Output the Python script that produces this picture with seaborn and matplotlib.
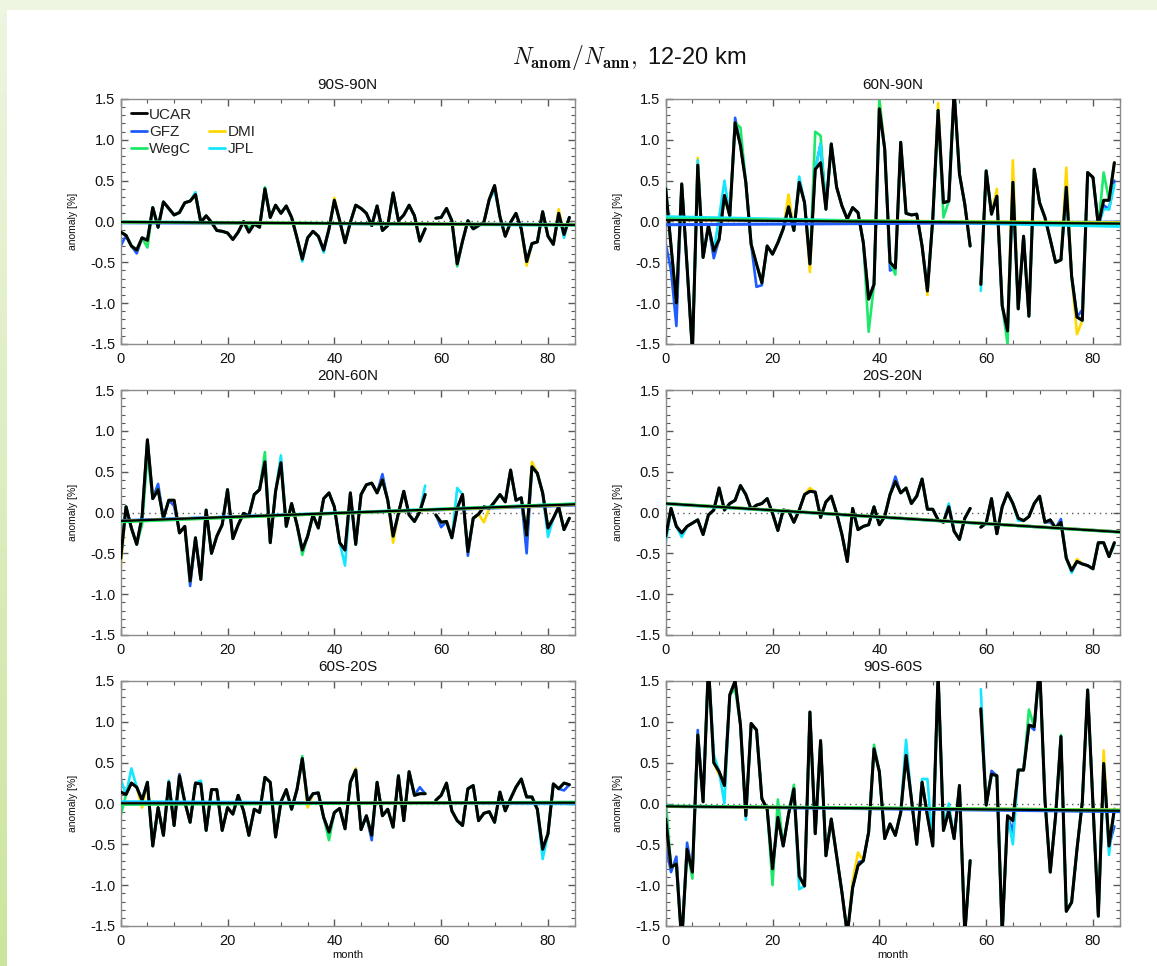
import numpy as np
import pandas as pd
import matplotlib
matplotlib.use("Agg")
import matplotlib.pyplot as plt
from matplotlib.lines import Line2D
from matplotlib.patches import Rectangle
from matplotlib.ticker import MultipleLocator, FormatStrFormatter
import seaborn as sns

sns.set_theme(style="white")
plt.rcParams["font.family"] = ["Liberation Sans", "DejaVu Sans"]
plt.rcParams["mathtext.fontset"] = "cm"

nan = np.nan
months = np.arange(85)

centres = ["UCAR", "GFZ", "DMI", "WegC", "JPL"]
centre_colors = {"UCAR": "#000000", "GFZ": "#1f5cff", "DMI": "#ffd800",
                 "WegC": "#1ee86a", "JPL": "#14e6ff"}

# Monthly refractivity anomalies [%] from UCAR, per latitude band
ucar_90s_90n = [
    -0.13, -0.17, -0.30, -0.35, -0.20, -0.23, 0.17, -0.07, 0.24, 0.16,
    0.08, 0.11, 0.23, 0.25, 0.33, -0.01, 0.07, -0.01, -0.11, -0.12,
    -0.14, -0.22, -0.13, 0.00, -0.13, -0.03, -0.07, 0.40, 0.05, 0.20,
    0.10, 0.19, 0.05, -0.20, -0.46, -0.20, -0.12, -0.18, -0.35, -0.09,
    0.26, 0.01, -0.26, -0.01, 0.20, 0.16, 0.10, -0.05, 0.19, -0.11,
    -0.05, 0.35, 0.01, 0.08, 0.20, 0.07, -0.24, -0.09, nan, 0.04,
    0.05, 0.16, 0.01, -0.52, -0.24, 0.01, -0.09, -0.05, -0.01, 0.27,
    0.44, 0.06, -0.18, -0.01, 0.10, -0.09, -0.49, -0.27, -0.25, 0.12,
    -0.18, -0.28, 0.10, -0.16, 0.05]
ucar_60n_90n = [
    0.40, -0.30, -1.00, 0.46, -0.55, -1.60, 0.69, -0.44, -0.05, -0.36,
    -0.22, 0.32, 0.07, 1.21, 0.93, 0.48, -0.28, -0.52, -0.75, -0.30,
    -0.40, -0.26, -0.09, 0.18, -0.11, 0.48, 0.23, -0.52, 0.64, 0.72,
    0.15, 0.95, 0.42, 0.19, 0.03, 0.17, 0.11, -0.26, -0.95, -0.77,
    1.38, 0.89, -0.50, -0.57, 0.97, 0.10, 0.08, 0.09, -0.30, -0.85,
    0.03, 1.36, 0.23, 0.25, 1.60, 0.58, 0.21, -0.30, nan, -0.77,
    0.62, 0.09, 0.31, -1.03, -1.34, 0.48, -1.07, -0.18, -1.16, 0.64,
    0.23, 0.05, -0.22, -0.50, -0.47, 0.42, -0.67, -1.17, -1.21, 0.60,
    0.54, -0.05, 0.26, 0.26, 0.72]
ucar_20n_60n = [
    -0.56, 0.07, -0.19, -0.39, -0.05, 0.89, 0.17, 0.28, -0.07, 0.15,
    0.15, -0.25, -0.17, -0.84, -0.31, -0.82, 0.03, -0.50, -0.29, -0.15,
    0.28, -0.32, -0.15, -0.01, -0.04, 0.22, 0.28, 0.62, -0.37, 0.26,
    0.61, -0.17, 0.11, -0.15, -0.46, -0.29, -0.03, -0.19, 0.17, 0.24,
    0.07, -0.37, -0.46, 0.24, -0.39, 0.22, 0.34, 0.36, 0.24, 0.40,
    0.15, -0.29, -0.01, 0.26, -0.03, -0.11, 0.01, 0.22, nan, -0.03,
    -0.12, -0.11, -0.31, 0.05, 0.22, -0.48, -0.07, -0.02, 0.07, 0.05,
    0.13, 0.22, 0.13, 0.52, 0.15, 0.18, -0.28, 0.56, 0.48, 0.24,
    -0.19, -0.07, 0.07, -0.21, -0.07]
ucar_20s_20n = [
    -0.29, 0.05, -0.17, -0.25, -0.17, -0.13, -0.09, -0.27, -0.03, 0.03,
    0.30, 0.03, 0.11, 0.15, 0.33, 0.22, 0.04, 0.09, 0.11, 0.17,
    -0.01, -0.22, 0.03, 0.02, -0.12, 0.03, 0.22, 0.26, 0.25, -0.06,
    0.13, 0.20, -0.01, -0.27, -0.60, 0.05, -0.21, -0.17, -0.15, 0.07,
    -0.15, -0.05, 0.22, 0.38, 0.24, 0.30, 0.11, 0.20, 0.41, 0.04,
    0.04, -0.09, -0.12, 0.07, -0.23, -0.33, -0.07, 0.05, nan, -0.18,
    -0.13, 0.17, -0.26, 0.07, 0.24, 0.11, -0.07, -0.10, -0.05, 0.11,
    0.20, -0.12, -0.09, -0.19, -0.12, -0.56, -0.71, -0.60, -0.63, -0.65,
    -0.69, -0.37, -0.37, -0.54, -0.37]
ucar_60s_20s = [
    0.14, 0.11, 0.25, 0.20, 0.04, 0.26, -0.52, -0.05, -0.39, 0.26,
    -0.27, 0.34, 0.02, -0.23, 0.25, 0.24, -0.33, 0.17, 0.17, -0.33,
    -0.05, -0.13, 0.10, -0.09, -0.39, -0.07, -0.11, 0.32, 0.26, -0.41,
    0.02, 0.17, -0.07, 0.17, 0.55, 0.02, 0.12, 0.13, -0.17, -0.35,
    -0.11, -0.06, -0.31, 0.26, 0.41, -0.32, -0.15, -0.39, 0.26, -0.15,
    -0.07, -0.29, 0.34, -0.21, 0.39, 0.10, 0.12, 0.12, nan, 0.04,
    0.10, 0.25, -0.09, -0.21, -0.27, 0.18, 0.22, -0.21, -0.12, -0.10,
    -0.23, 0.14, -0.09, 0.06, 0.20, 0.30, 0.08, 0.08, -0.07, -0.56,
    -0.37, 0.24, 0.18, 0.25, 0.23]
ucar_90s_60s = [
    -0.19, -0.78, -0.74, -1.70, -0.56, -0.84, 0.84, 0.02, 1.70, 0.50,
    0.39, 0.22, 1.33, 1.50, 0.96, -0.15, 0.98, 0.90, 0.06, -0.07,
    -0.80, -0.17, -0.52, -0.13, 0.18, -0.89, -1.01, 1.12, -0.37, 0.77,
    -0.64, -0.19, -0.64, -1.09, -1.60, -1.03, -0.76, -0.70, -0.35, 0.67,
    0.39, -0.43, -0.25, -0.39, -0.11, 0.59, 0.06, -0.50, 0.26, -0.15,
    -0.52, 1.60, -0.33, -0.09, -0.43, 0.22, -1.60, -0.70, nan, 1.16,
    -0.02, 0.36, 0.34, -1.60, -0.15, -0.21, 0.41, 0.41, 0.96, 0.94,
    1.70, 0.05, -0.84, -0.15, 0.82, -1.32, -1.21, -0.56, 0.02, 1.39,
    -0.02, -1.38, 0.49, -0.52, -0.07]

# Months in which the other processing centres depart from UCAR
dev_90s_90n = {
    "GFZ": {0: -0.30, 3: -0.39},
    "DMI": {5: -0.30, 40: 0.29, 76: -0.54, 82: 0.15},
    "WegC": {5: -0.32, 24: -0.08, 27: 0.42, 63: -0.55},
    "JPL": {14: 0.36, 34: -0.49, 38: -0.38, 70: 0.38, 83: -0.20},
}
dev_60n_90n = {
    "GFZ": {0: -0.27, 1: -0.60, 2: -1.28, 9: -0.45, 13: 1.27, 17: -0.80,
            18: -0.78, 29: 0.95, 42: -0.60, 78: -1.08, 82: 0.20, 83: 0.15,
            84: 0.50},
    "DMI": {6: 0.78, 23: 0.33, 27: -0.62, 40: 1.50, 49: -0.90, 51: 1.45,
            62: 0.40, 65: 0.75, 75: 0.66, 77: -1.38},
    "WegC": {14: 1.15, 28: 1.10, 29: 1.05, 38: -1.35, 40: 1.50, 43: -0.65,
             52: 0.05, 64: -1.50, 82: 0.60},
    "JPL": {0: 0.45, 6: 0.75, 10: 0.05, 11: 0.50, 25: 0.55, 29: 0.95,
            59: -0.85, 82: 0.15, 83: 0.15, 84: 0.45},
}
dev_20n_60n = {
    "GFZ": {7: 0.35, 10: 0.08, 13: -0.90, 49: 0.47, 60: -0.18, 65: -0.53,
            76: -0.50},
    "DMI": {0: -0.68, 28: -0.35, 51: -0.37, 68: -0.12, 77: 0.62},
    "WegC": {4: -0.15, 5: 0.70, 27: 0.74, 34: -0.52},
    "JPL": {30: 0.70, 42: -0.65, 57: 0.33, 63: 0.30, 80: -0.30},
}
dev_20s_20n = {
    "GFZ": {43: 0.44, 72: -0.12, 74: -0.08},
    "DMI": {27: 0.30, 77: -0.57},
    "WegC": {84: -0.40},
    "JPL": {0: -0.38, 3: -0.30, 53: 0.11, 66: -0.10, 76: -0.74},
}
dev_60s_20s = {
    "GFZ": {11: 0.36, 47: -0.45, 56: 0.20, 83: 0.16},
    "DMI": {4: -0.05, 35: -0.05, 44: 0.43},
    "WegC": {0: -0.15, 34: 0.58, 39: -0.45},
    "JPL": {0: 0.30, 2: 0.43, 9: 0.28, 15: 0.28, 79: -0.68},
}
dev_90s_60s = {
    "GFZ": {0: -0.52, 1: -0.84, 2: -0.65, 4: -0.48, 6: 0.90, 9: 0.55,
            36: -0.72, 61: 0.40, 65: -0.35, 69: 0.90, 84: -0.28},
    "DMI": {10: 0.35, 35: -0.95, 36: -0.60, 82: 0.65},
    "WegC": {0: 0.05, 5: -0.92, 13: 1.40, 20: -1.00, 21: 0.05, 24: 0.23,
             39: 0.72, 68: 1.15, 74: 0.84},
    "JPL": {9: 0.60, 11: 0.00, 15: -0.20, 25: -1.05, 45: 0.78, 48: 0.30,
            49: 0.30, 53: 0.00, 59: 1.40, 65: -0.50, 83: -0.63},
}

regions = ["90S-90N", "60N-90N", "20N-60N", "20S-20N", "60S-20S", "90S-60S"]
ucar_by_region = [ucar_90s_90n, ucar_60n_90n, ucar_20n_60n,
                  ucar_20s_20n, ucar_60s_20s, ucar_90s_60s]
dev_by_region = [dev_90s_90n, dev_60n_90n, dev_20n_60n,
                 dev_20s_20n, dev_60s_20s, dev_90s_60s]


def centre_series(ucar, deviations):
    out = {"UCAR": np.array(ucar, dtype=float)}
    for c in centres[1:]:
        arr = np.array(ucar, dtype=float)
        for m, v in deviations.get(c, {}).items():
            arr[m] = v
        out[c] = arr
    return out


W, H = 1157, 966
fig = plt.figure(figsize=(W / 100, H / 100), dpi=100)
fig.patch.set_facecolor("white")

# page decoration: pale band along the top, green gradient along the left
fig.add_artist(Rectangle((0, 1 - 10 / H), 1, 10 / H, transform=fig.transFigure,
                         facecolor="#eef5e0", edgecolor="none", zorder=0))
strip = fig.add_axes([0, 0, 7 / W, 1 - 10 / H])
grad = np.linspace(0, 1, 256)[:, None]
c_top = np.array([238, 245, 224]) / 255
c_bot = np.array([203, 229, 158]) / 255
strip.imshow((c_top * (1 - grad) + c_bot * grad).reshape(256, 1, 3),
             aspect="auto", extent=[0, 1, 0, 1])
strip.axis("off")

col_left = [120.7, 665.7]
ax_w = 454.0
row_top = [99.0, 390.0, 681.0]
ax_h = 245.0

draw_order = ["GFZ", "DMI", "WegC", "JPL", "UCAR"]
trend_order = ["JPL", "GFZ", "DMI", "WegC", "UCAR"]

for i, (name, ucar, dev) in enumerate(zip(regions, ucar_by_region, dev_by_region)):
    r, c = divmod(i, 2)
    ax = fig.add_axes([col_left[c] / W, 1 - (row_top[r] + ax_h) / H,
                       ax_w / W, ax_h / H])
    series = centre_series(ucar, dev)

    frames = []
    for cen in centres:
        frames.append(pd.DataFrame({
            "month": months, "anomaly": series[cen], "centre": cen,
            "segment": np.where(months < 58, 0, 1)}))
    df = pd.concat(frames, ignore_index=True)

    ax.set_xlim(0, 85)
    ax.set_ylim(-1.5, 1.5)
    ax.axhline(0, color="0.35", lw=1.0, ls=(0, (1, 3)), zorder=1)

    for cen in draw_order:
        sub = df[df["centre"] == cen]
        sns.lineplot(data=sub, x="month", y="anomaly", units="segment",
                     estimator=None, color=centre_colors[cen],
                     lw=2.2 if cen == "UCAR" else 1.9, ax=ax, legend=False,
                     zorder=3 if cen == "UCAR" else 2)

    # linear trend of each centre over the full record
    for cen in trend_order:
        sns.regplot(x=pd.Series(months, dtype=float), y=pd.Series(series[cen]),
                    ax=ax, scatter=False, ci=None, truncate=False,
                    color=centre_colors[cen],
                    line_kws={"lw": 1.6 if cen == "UCAR" else 2.2, "zorder": 4})

    ax.set_xlim(0, 85)
    ax.set_ylim(-1.5, 1.5)
    ax.xaxis.set_major_locator(MultipleLocator(20))
    ax.xaxis.set_minor_locator(MultipleLocator(5))
    ax.yaxis.set_major_locator(MultipleLocator(0.5))
    ax.yaxis.set_minor_locator(MultipleLocator(0.1))
    ax.yaxis.set_major_formatter(FormatStrFormatter("%.1f"))
    ax.tick_params(which="both", direction="in", top=True, right=True,
                   bottom=True, left=True, color="0.35", labelsize=10.5,
                   labelcolor="#111111")
    ax.tick_params(which="major", length=5, width=1)
    ax.tick_params(which="minor", length=3, width=0.8)
    ax.tick_params(axis="x", pad=6)
    ax.tick_params(axis="y", pad=4)
    for sp in ax.spines.values():
        sp.set_color("0.55")
        sp.set_linewidth(1.0)

    ax.set_title(name, fontsize=11, pad=7, color="#111111")
    ax.set_ylabel("anomaly [%]", fontsize=7.5, color="#111111")
    ax.yaxis.set_label_coords(-0.095, 0.5)
    if r == 2:
        ax.set_xlabel("month", fontsize=8, color="#111111")
        ax.xaxis.set_label_coords(0.5, -0.1)
    else:
        ax.set_xlabel("")

    if i == 0:
        handles = [Line2D([], [], color=centre_colors["UCAR"], lw=2),
                   Line2D([], [], color=centre_colors["GFZ"], lw=2),
                   Line2D([], [], color=centre_colors["WegC"], lw=2),
                   Line2D([], [], color="none"),
                   Line2D([], [], color=centre_colors["DMI"], lw=2),
                   Line2D([], [], color=centre_colors["JPL"], lw=2)]
        labels = ["UCAR", "GFZ", "WegC", "", "DMI", "JPL"]
        ax.legend(handles, labels, ncol=2, loc="upper left",
                  bbox_to_anchor=(0.022, 0.965), frameon=False, fontsize=11,
                  handlelength=1.05, handletextpad=0.15, labelspacing=0.22,
                  columnspacing=1.1, borderpad=0, borderaxespad=0)

fig.text(629 / W, 1 - 57 / H, r"$N_{\mathbf{anom}}/N_{\mathbf{ann}},$ 12-20 km",
         ha="center", va="center", fontsize=17, color="#111111")

fig.savefig("out.png", dpi=100)
